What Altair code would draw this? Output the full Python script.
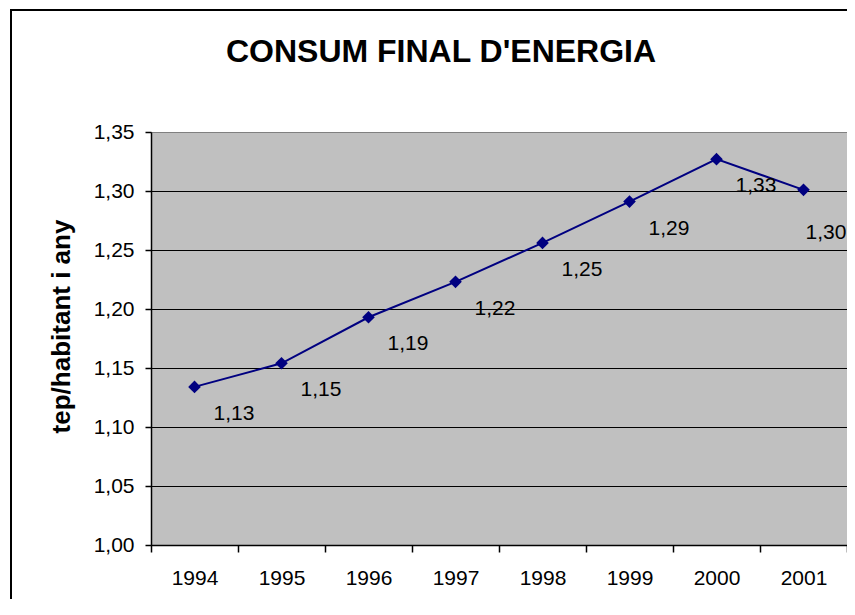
import altair as alt
import pandas as pd

years = ["1994", "1995", "1996", "1997", "1998", "1999", "2000", "2001"]
values = [1.134, 1.154, 1.193, 1.223, 1.256, 1.291, 1.327, 1.301]
labels = ["1,13", "1,15", "1,19", "1,22", "1,25", "1,29", "1,33", "1,30"]
y_ticks = [1.00, 1.05, 1.10, 1.15, 1.20, 1.25, 1.30, 1.35]
title_text = "CONSUM FINAL D'ENERGIA"
y_title = "tep/habitant i any"

df = pd.DataFrame({"year": years, "value": values, "label": labels})

FONT = "Liberation Sans"
NAVY = "#000080"

x_enc = alt.X(
    "year:O",
    scale=alt.Scale(type="band", paddingInner=0, paddingOuter=0),
    axis=alt.Axis(
        title=None,
        labelAngle=0,
        tickBand="extent",
        tickSize=7,
        labelPadding=15,
        grid=False,
    ),
)
y_enc = alt.Y(
    "value:Q",
    scale=alt.Scale(domain=[1.0, 1.35], nice=False, zero=False),
    axis=alt.Axis(
        values=y_ticks,
        labelExpr="replace(format(datum.value, '.2f'), '.', ',')",
        grid=True,
        gridColor={"condition": {"test": "datum.value >= 1.349", "value": "#808080"}, "value": "black"},
        gridWidth=1,
        gridOpacity=1,
        tickSize=6,
        labelPadding=11,
        title=y_title,
        titleFont=FONT,
        titleFontSize=26,
        titleFontWeight="bold",
        titleColor="black",
        titleAngle=270,
        titleAlign="center",
        titleBaseline="alphabetic",
        titleX=-82,
        titleY=194,
    ),
)

base = alt.Chart(df)

border = alt.Chart(pd.DataFrame({"k": [0]})).mark_rect(
    fillOpacity=0, stroke="black", strokeWidth=2
).encode(
    x=alt.value(-140), x2=alt.value(720), y=alt.value(-122), y2=alt.value(490)
)

title = alt.Chart(pd.DataFrame({"t": [title_text]})).mark_text(
    font=FONT, fontSize=32, fontWeight="bold", color="black",
    align="center", baseline="alphabetic"
).encode(text="t:N", x=alt.value(290), y=alt.value(-70))

line = base.mark_line(color=NAVY, strokeWidth=2).encode(x=x_enc, y=y_enc)
pts = base.mark_point(shape="diamond", filled=True, size=160, color=NAVY, opacity=1).encode(x=x_enc, y=y_enc)
txt = base.mark_text(
    align="left", baseline="middle",
    dx={"expr": "datum.year == '2001' ? 2 : 19"},
    dy={"expr": "datum.year == '2001' ? 43 : 27"},
    fontSize=21, font=FONT, color="black"
).encode(x=x_enc, y=y_enc, text="label:N")

chart = alt.layer(border, line, pts, txt, title).properties(
    width=696,
    height=413,
    autosize=alt.AutoSizeParams(type="none"),
    padding={"left": 143, "top": 124, "right": 0, "bottom": 54},
    background="white",
).configure_view(
    fill="#C0C0C0", stroke="#808080", strokeWidth=1
).configure_axis(
    labelFont=FONT,
    labelFontSize=21,
    labelColor="black",
    tickColor="black",
    domainColor="black",
    domainWidth=1.5,
    tickWidth=1.5,
)

chart.save("out.html", embed_options={"renderer": "svg", "actions": False})
